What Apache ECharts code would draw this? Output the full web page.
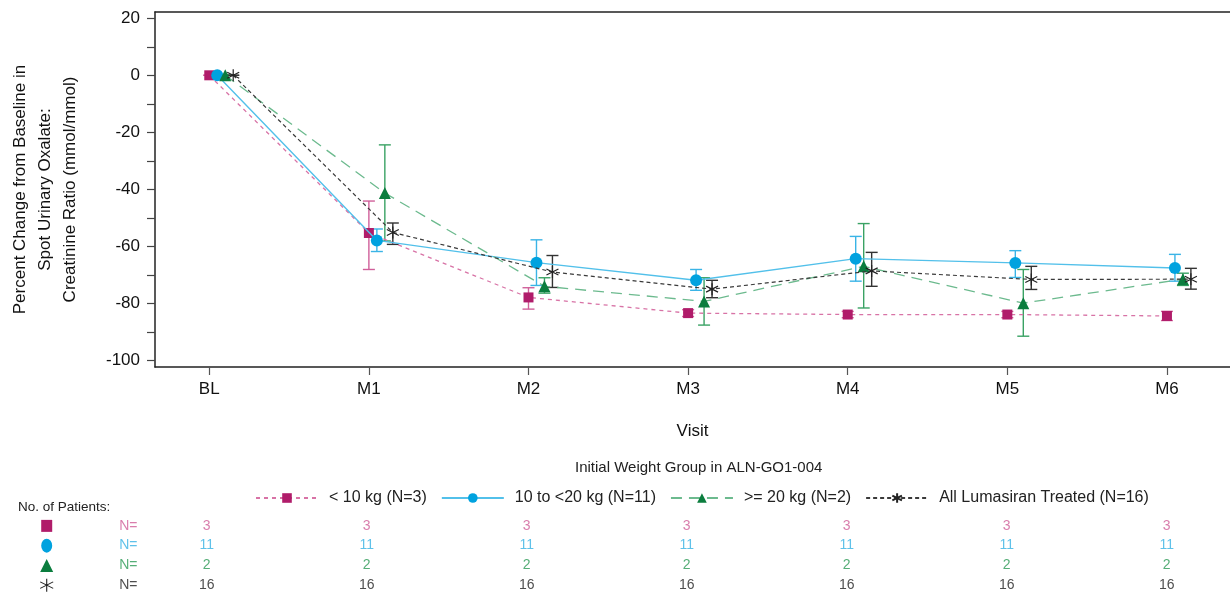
<!DOCTYPE html>
<html><head><meta charset="utf-8">
<script src="https://cdn.jsdelivr.net/npm/echarts@6/dist/echarts.min.js"></script>
<style>html,body{margin:0;padding:0;background:#fff}#c{width:1230px;height:595px}</style>
</head><body><div id="c"></div>
<script>
// ---------- data ----------
const visits = ['BL', 'M1', 'M2', 'M3', 'M4', 'M5', 'M6'];
const yMajorTicks = [-100, -80, -60, -40, -20, 0, 20];
const yMinorTicks = [-100, -90, -80, -70, -60, -50, -40, -30, -20, -10, 0, 10, 20];
const groupNames = ['< 10 kg (N=3)', '10 to <20 kg (N=11)', '>= 20 kg (N=2)', 'All Lumasiran Treated (N=16)'];
const legendTitle = 'Initial Weight Group in ALN-GO1-004';

const lt10Mean = [0, -55.3, -77.9, -83.4, -83.9, -83.9, -84.4];
const lt10Lo   = [0, -68.1, -82.0, -84.6, -85.0, -85.0, -86.0];
const lt10Hi   = [0, -44.1, -74.5, -82.2, -82.8, -82.8, -82.8];

const midMean = [0, -57.9, -65.7, -71.9, -64.3, -65.8, -67.6];
const midLo   = [0, -61.8, -73.7, -75.4, -72.2, -70.9, -72.2];
const midHi   = [0, -53.9, -57.7, -68.1, -56.5, -61.5, -62.8];

const ge20Mean = [0, -41.3, -74.0, -79.3, -67.0, -79.9, -71.5];
const ge20Lo   = [0, -58.1, -76.4, -87.6, -81.6, -91.5, -73.7];
const ge20Hi   = [0, -24.4, -71.0, -71.0, -52.0, -68.1, -69.4];

const allMean = [0, -55.1, -69.0, -75.0, -68.6, -71.6, -71.5];
const allLo   = [0, -59.3, -74.4, -78.0, -74.0, -75.1, -75.0];
const allHi   = [0, -51.8, -63.2, -71.9, -62.1, -67.0, -67.7];

const lt10N = [3, 3, 3, 3, 3, 3, 3];
const midN  = [11, 11, 11, 11, 11, 11, 11];
const ge20N = [2, 2, 2, 2, 2, 2, 2];
const allN  = [16, 16, 16, 16, 16, 16, 16];

// ---------- styles ----------
const FONT = 'Liberation Sans, Arial, sans-serif';
const STAR = 'path://M0,-10L0,10M-8.66,-5L8.66,5M-8.66,5L8.66,-5';
const groups = [
  {mean: lt10Mean, lo: lt10Lo, hi: lt10Hi, n: lt10N, off: 0.00, marker: '#b01c6a', line: '#d873a6', err: '#d0609a', txt: '#cf5d97',
   symbol: 'rect', size: 10, lineType: [4, 4], lineW: 1.3},
  {mean: midMean, lo: midLo, hi: midHi, n: midN, off: 0.05, marker: '#00a2df', line: '#52c0ea', err: '#3ab4e6', txt: '#36b2e4',
   symbol: 'circle', size: 12, lineType: 'solid', lineW: 1.4},
  {mean: ge20Mean, lo: ge20Lo, hi: ge20Hi, n: ge20N, off: 0.10, marker: '#0b7d3e', line: '#6cba8e', err: '#3aa264', txt: '#2b9a55',
   symbol: 'triangle', size: 12, lineType: [11, 7], lineW: 1.3},
  {mean: allMean, lo: allLo, hi: allHi, n: allN, off: 0.15, marker: '#222222', line: '#3a3a3a', err: '#333333', txt: '#222222',
   symbol: STAR, size: 12, lineType: [4, 3], lineW: 1.2}
];

const series = [];
// error bars
groups.forEach((g, gi) => {
  series.push({
    type: 'custom', xAxisIndex: 0, yAxisIndex: 0, z: 2, silent: true,
    data: visits.map((v, i) => [i + g.off, g.lo[i], g.hi[i]]),
    renderItem: (params, api) => {
      const x = api.value(0);
      const lo = api.coord([x, api.value(1)]);
      const hi = api.coord([x, api.value(2)]);
      const w = 6;
      const st = {stroke: g.err, lineWidth: 1.4};
      return {type: 'group', children: [
        {type: 'line', shape: {x1: lo[0], y1: lo[1], x2: hi[0], y2: hi[1]}, style: st},
        {type: 'line', shape: {x1: lo[0] - w, y1: lo[1], x2: lo[0] + w, y2: lo[1]}, style: st},
        {type: 'line', shape: {x1: hi[0] - w, y1: hi[1], x2: hi[0] + w, y2: hi[1]}, style: st}
      ]};
    }
  });
});
// lines + markers
groups.forEach((g, gi) => {
  const isStar = g.symbol === STAR;
  series.push({
    type: 'line', name: groupNames[gi], xAxisIndex: 0, yAxisIndex: 0, z: 3 + gi,
    data: visits.map((v, i) => [i + g.off, g.mean[i]]),
    symbol: g.symbol, symbolSize: g.size, showAllSymbol: true,
    lineStyle: {color: g.line, width: g.lineW, type: g.lineType},
    itemStyle: isStar ? {color: 'rgba(0,0,0,0)', borderColor: g.marker, borderWidth: 1.2}
                      : {color: g.marker, borderWidth: 0},
    emphasis: {disabled: true}, animation: false
  });
});
// number-at-risk table
groups.forEach((g, gi) => {
  const isStar = g.symbol === STAR;
  series.push({
    type: 'scatter', xAxisIndex: 2, yAxisIndex: 1, silent: true,
    data: [[-1.0, gi + 0.5]],
    symbol: g.symbol, symbolSize: gi === 1 ? [11, 14] : (gi === 0 ? [11, 12] : 13),
    itemStyle: isStar ? {color: 'rgba(0,0,0,0)', borderColor: g.marker, borderWidth: 1.1, opacity: 1}
                      : {color: g.marker, opacity: 1}
  });
  const pts = [[-0.49, gi + 0.5, 'N=']].concat(visits.map((v, i) => [i, gi + 0.5, String(g.n[i])]));
  series.push({
    type: 'scatter', xAxisIndex: 2, yAxisIndex: 1, silent: true,
    data: pts, symbolSize: 1, itemStyle: {color: 'rgba(0,0,0,0)'},
    label: {show: true, position: 'inside', formatter: p => p.value[2],
            color: g.txt, fontSize: 14, fontFamily: FONT}
  });
});

const chart = echarts.init(document.getElementById('c'), null, {renderer: 'canvas'});
chart.setOption({
  animation: false,
  backgroundColor: '#fff',
  grid: [
    {left: 152, top: 12, right: 0, bottom: 228, containLabel: false},
    {left: 0, right: 0, top: 516, height: 80, containLabel: false}
  ],
  xAxis: [
    {type: 'value', gridIndex: 0, min: -0.34, max: 6.395,
     axisLine: {show: true, onZero: false, lineStyle: {color: '#222', width: 1.5}},
     axisTick: {show: true, customValues: [0, 1, 2, 3, 4, 5, 6], length: 8, lineStyle: {color: '#555', width: 1.2}},
     axisLabel: {customValues: [0, 1, 2, 3, 4, 5, 6], formatter: v => visits[Math.round(v)], fontSize: 17,
                 color: '#111', fontFamily: FONT, margin: 14},
     splitLine: {show: false},
     name: 'Visit', nameLocation: 'middle', nameGap: 56,
     nameTextStyle: {fontSize: 17, color: '#111', fontFamily: FONT}},
    {type: 'value', gridIndex: 0, position: 'top', min: -0.34, max: 6.395,
     axisLine: {show: true, onZero: false, lineStyle: {color: '#222', width: 1.5}},
     axisTick: {show: false}, axisLabel: {show: false}, splitLine: {show: false}},
    {type: 'value', gridIndex: 1, min: -1.2919, max: 6.3956, show: false}
  ],
  yAxis: [
    {type: 'value', gridIndex: 0, min: -102.3, max: 22.2,
     axisLine: {show: true, onZero: false, lineStyle: {color: '#222', width: 1.5}},
     axisTick: {show: true, customValues: yMinorTicks, length: 8, lineStyle: {color: '#444', width: 1.2}},
     axisLabel: {customValues: yMajorTicks, fontSize: 17, color: '#111', fontFamily: FONT, margin: 15},
     splitLine: {show: false},
     name: 'Percent Change from Baseline in\nSpot Urinary Oxalate:\nCreatinine Ratio (mmol/mmol)',
     nameLocation: 'middle', nameGap: 72, nameRotate: 90,
     nameTextStyle: {fontSize: 17, color: '#111', fontFamily: FONT, lineHeight: 25, align: 'center'}},
    {type: 'value', gridIndex: 1, min: 0, max: 4, inverse: true, show: false}
  ],
  legend: {
    data: groupNames, left: 250, top: 485, itemWidth: 62, itemHeight: 12, itemGap: 14,
    selectedMode: false,
    textStyle: {fontSize: 16, color: '#222', fontFamily: FONT, padding: [0, 0, 0, 6]}
  },
  graphic: [
    {type: 'text', left: 575, top: 460, style: {text: legendTitle, fontSize: 15, fill: '#222', fontFamily: FONT}},
    {type: 'text', left: 18, top: 500, style: {text: 'No. of Patients:', fontSize: 13.5, fill: '#222', fontFamily: FONT}}
  ],
  series: series
});
</script>
</body></html>
